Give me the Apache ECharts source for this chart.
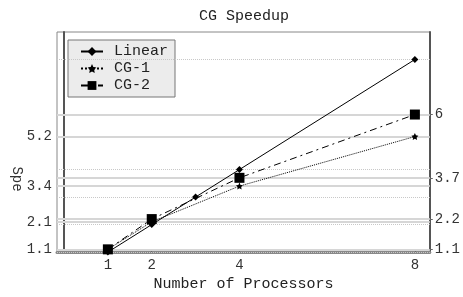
<!DOCTYPE html>
<html><head><meta charset="utf-8">
<script src="https://cdn.jsdelivr.net/npm/echarts@6/dist/echarts.min.js"></script>
<style>html,body{margin:0;padding:0;background:#fff}#c{width:463px;height:297px}</style>
</head><body><div id="c"></div>
<script>
const title = 'CG Speedup';
const xName = 'Number of Processors';
const yName = 'Spe';
const linearX = [1, 2, 3, 4, 8];
const linearY = [1, 2, 3, 4, 8];
const cg1X = [1, 2, 4, 8];
const cg1Y = [1.1, 2.1, 3.4, 5.2];
const cg2X = [1, 2, 4, 8];
const cg2Y = [1.1, 2.2, 3.7, 6];
const xTicks = [1, 2, 4, 8];
const leftTicks = [1.1, 2.1, 3.4, 5.2];
const rightTicks = [1.1, 2.2, 3.7, 6];

const FONT = '"Liberation Mono", "DejaVu Sans Mono", monospace';
const starPath = 'path://M0,-10 L2.9,-4 9.5,-3.1 4.7,1.5 5.9,8.1 0,5 -5.9,8.1 -4.7,1.5 -9.5,-3.1 -2.9,-4Z';
const zip = (xs, ys) => xs.map((x, i) => [x, ys[i]]);

const solidGrid = Array.from(new Set(cg1Y.concat(cg2Y))).map(v => ({yAxis: v}));
const dotGrid = linearY.map(v => ({yAxis: v}));

const chart = echarts.init(document.getElementById('c'), null, {renderer: 'canvas'});
const yCommon = {
  type: 'value', min: 1, max: 9,
  splitLine: {show: false},
  axisLine: {show: true, lineStyle: {color: '#555', width: 2}},
  axisTick: {show: true, length: 3, lineStyle: {color: '#666'}},
  axisLabel: {fontFamily: FONT, fontSize: 14, color: '#333', margin: 5}
};
chart.setOption({
  animation: false,
  title: {text: title, left: 239, top: 4, textAlign: 'center',
    textStyle: {fontFamily: FONT, fontSize: 15, fontWeight: 'normal', color: '#222'}},
  grid: {left: 57, right: 33, top: 32, bottom: 38, show: true, borderColor: '#888', borderWidth: 1},
  legend: {
    orient: 'vertical', left: 68, top: 40, itemGap: 2, itemWidth: 22, itemHeight: 11,
    padding: [4, 7, 4, 12],
    backgroundColor: '#ececec', borderColor: '#777', borderWidth: 1,
    textStyle: {fontFamily: FONT, fontSize: 15, color: '#222', padding: [0, 0, 0, 6]},
    data: ['Linear', 'CG-1', 'CG-2']
  },
  xAxis: {
    type: 'value', min: -0.16, max: 8.34,
    name: xName, nameLocation: 'middle', nameGap: 23,
    nameTextStyle: {fontFamily: FONT, fontSize: 15, color: '#222'},
    splitLine: {show: false},
    axisLine: {show: true, onZero: false, lineStyle: {color: '#888', width: 3}},
    axisTick: {show: true, inside: true, length: 2, customValues: xTicks, lineStyle: {color: '#666'}},
    axisLabel: {customValues: xTicks, fontFamily: FONT, fontSize: 14, color: '#333', margin: 6}
  },
  yAxis: [
    Object.assign({}, yCommon, {position: 'left',
      axisTick: Object.assign({}, yCommon.axisTick, {customValues: leftTicks}),
      axisLabel: Object.assign({}, yCommon.axisLabel, {customValues: leftTicks})}),
    Object.assign({}, yCommon, {position: 'right',
      axisTick: Object.assign({}, yCommon.axisTick, {customValues: rightTicks}),
      axisLabel: Object.assign({}, yCommon.axisLabel, {customValues: rightTicks})})
  ],
  graphic: [{
    type: 'text', x: 17, y: 179, rotation: -Math.PI / 2,
    style: {text: yName, fontFamily: FONT, fontSize: 14, fill: '#333', align: 'center', verticalAlign: 'middle'}
  }],
  series: [
    {type: 'line', name: '__gridSolid', data: [], silent: true,
      markLine: {silent: true, symbol: 'none', label: {show: false}, animation: false,
        lineStyle: {color: '#d6d6d6', width: 2, type: 'solid'}, data: solidGrid}},
    {type: 'line', name: '__gridDot', data: [], silent: true,
      markLine: {silent: true, symbol: 'none', label: {show: false}, animation: false,
        lineStyle: {color: '#c8c8c8', width: 1, type: 'dotted'}, data: dotGrid}},
    {type: 'line', name: 'Linear', data: zip(linearX, linearY), symbol: 'diamond', symbolSize: 7,
      itemStyle: {color: '#000'}, lineStyle: {color: '#000', width: 1, type: 'solid'}, z: 5},
    {type: 'line', name: 'CG-1', data: zip(cg1X, cg1Y), symbol: starPath, symbolSize: 7,
      itemStyle: {color: '#000'}, lineStyle: {color: '#000', width: 1, type: 'dotted'}, z: 5},
    {type: 'line', name: 'CG-2', data: zip(cg2X, cg2Y), symbol: 'rect', symbolSize: 10,
      itemStyle: {color: '#000'}, lineStyle: {color: '#000', width: 1, type: [7, 4, 2, 4]}, z: 5}
  ]
});
</script></body></html>
